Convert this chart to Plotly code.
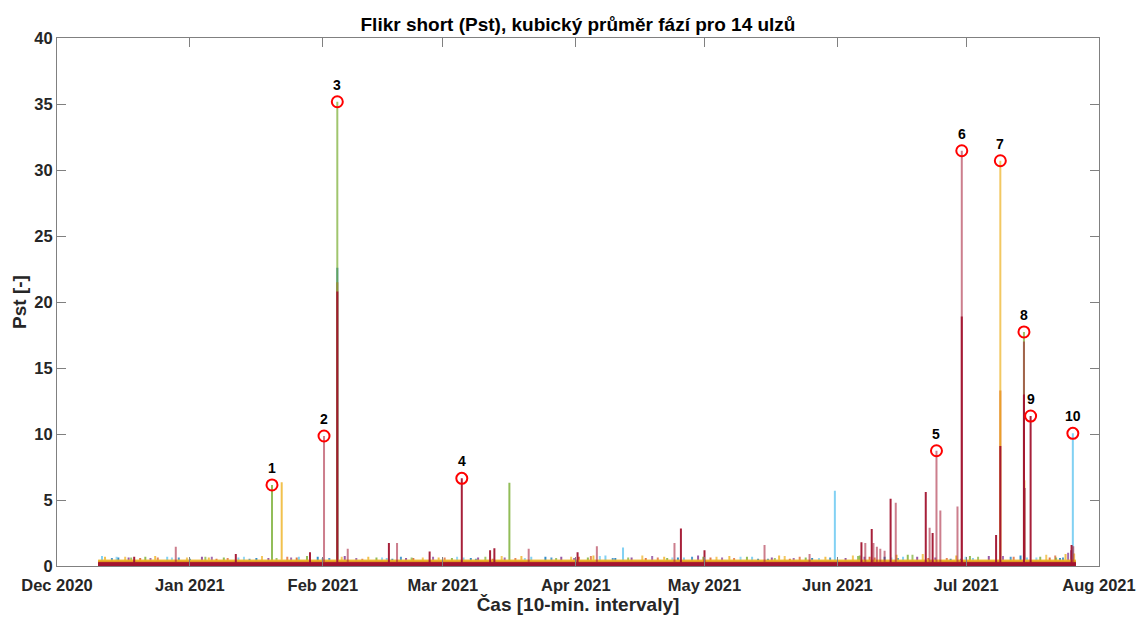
import pandas as pd
import plotly.graph_objects as go

# ---------------- data ----------------
origin = "2020-12-01"          # day 0 for all "days" arrays below
data_start_day = 9.6          # first 10-min sample
data_end_day = 237.6          # last 10-min sample

series_names = [f"ulz {i}" for i in range(1, 15)]
series_colors = ["#0072BD", "#D95319", "#EDB120", "#7E2F8E", "#77AC30", "#4DBEEE", "#A2142F",
                 "#0072BD", "#D95319", "#EDB120", "#7E2F8E", "#77AC30", "#4DBEEE", "#A2142F"]
series_base = [0.18, 0.24, 0.42, 0.14, 0.20, 0.22, 0.20, 0.16, 0.26, 0.36, 0.15, 0.19, 0.21, 0.24]

s1_days = [14.3, 31.0, 46.5, 60.8, 65.37, 78.2, 96.5, 113.9, 130.2, 144.8, 163.5, 176.1, 193.0, 208.4, 224.7, 233.9]
s1_vals = [0.65, 0.55, 0.60, 0.70, 22.6, 0.55, 0.60, 0.70, 0.60, 0.65, 0.55, 0.60, 0.70, 0.55, 0.80, 0.60]
s2_days = [19.4, 37.2, 55.9, 65.37, 83.1, 101.6, 121.7, 137.3, 152.4, 170.9, 189.5, 203.2, 219.99, 231.5]
s2_vals = [0.60, 0.55, 0.65, 21.5, 0.60, 0.55, 0.70, 0.60, 0.65, 0.55, 0.70, 0.60, 13.3, 0.65]
s3_days = [11.2, 22.9, 35.4, 52.4, 72.6, 89.0, 108.3, 125.1, 141.6, 156.8, 168.4, 179.2, 195.8, 209.7, 225.6, 235.2]
s3_vals = [0.70, 0.75, 0.65, 6.35, 0.70, 0.65, 0.75, 0.80, 0.70, 0.75, 0.80, 0.70, 0.85, 0.80, 6.5, 0.90]
s4_days = [16.7, 33.8, 49.3, 67.1, 81.4, 98.2, 117.6, 134.0, 149.5, 166.7, 183.9, 200.6, 217.3, 225.7, 236.5]
s4_vals = [0.65, 0.70, 0.60, 0.75, 0.60, 0.65, 0.70, 0.65, 0.80, 0.65, 0.60, 0.70, 0.75, 5.9, 1.2]
s5_days = [20.6, 38.9, 50.14, 58.3, 74.5, 92.1, 105.5, 123.8, 142.3, 160.9, 174.6, 187.2, 198.4, 212.9, 229.3]
s5_vals = [0.70, 0.65, 6.14, 0.75, 0.65, 0.60, 6.3, 0.65, 0.60, 0.70, 0.65, 0.80, 0.85, 0.75, 0.70]
s6_days = [10.5, 25.7, 42.3, 56.4, 76.9, 94.8, 110.6, 127.9, 132.0, 146.2, 162.1, 181.4, 197.3, 213.6, 226.2, 236.9]
s6_vals = [0.75, 0.70, 0.65, 0.70, 0.60, 0.65, 0.70, 0.80, 1.4, 0.65, 0.70, 5.7, 0.70, 0.60, 0.65, 10.05]
s7_days = [18.0, 41.7, 59.0, 65.37, 77.4, 86.9, 94.4, 101.0, 102.0, 121.4, 145.5, 151.0, 187.6, 190.0,
           194.4, 202.6, 204.2, 211.0, 219.0, 219.99, 225.5, 227.05, 236.6]
s7_vals = [0.70, 0.90, 1.05, 20.8, 1.75, 1.10, 6.64, 1.20, 1.35, 1.05, 2.85, 1.20, 1.80, 2.80,
           5.10, 5.60, 2.50, 18.9, 2.35, 9.1, 13.0, 11.36, 1.6]
s8_days = [12.8, 28.4, 44.9, 63.5, 80.2, 97.7, 115.3, 129.6, 148.1, 165.8, 180.3, 196.1, 210.8, 222.4, 234.6]
s8_vals = [0.60, 0.65, 0.55, 0.60, 0.70, 0.55, 0.65, 0.60, 0.70, 0.55, 0.65, 0.60, 0.55, 0.70, 0.65]
s9_days = [23.5, 39.8, 53.7, 71.2, 90.4, 106.9, 124.5, 140.1, 157.9, 173.2, 190.7, 207.5, 223.1, 232.8]
s9_vals = [0.65, 0.60, 0.70, 0.55, 0.65, 0.60, 0.75, 0.65, 0.60, 0.70, 0.65, 0.60, 0.70, 0.80]
s10_days = [15.9, 30.3, 47.8, 66.4, 85.3, 103.7, 119.9, 136.5, 153.8, 169.7, 185.6, 201.9, 219.99, 230.7, 237.2]
s10_vals = [0.70, 0.65, 0.75, 0.70, 0.65, 0.75, 0.70, 0.80, 0.70, 0.75, 0.80, 0.90, 30.7, 0.85, 0.95]
s11_days = [21.8, 36.1, 54.6, 69.8, 87.7, 104.4, 120.6, 138.8, 155.1, 171.8, 188.3, 204.8, 220.6, 235.8]
s11_vals = [0.60, 0.70, 0.65, 0.60, 0.70, 0.65, 0.60, 0.75, 0.65, 0.60, 0.70, 0.65, 0.75, 1.00]
s12_days = [17.3, 34.6, 51.2, 65.37, 82.7, 99.9, 116.4, 133.2, 150.7, 167.4, 186.8, 199.5, 214.8, 225.5, 233.0]
s12_vals = [0.65, 0.70, 0.60, 35.17, 0.65, 0.70, 0.60, 0.65, 0.70, 0.60, 0.75, 0.85, 0.70, 17.73, 0.65]
s13_days = [13.9, 26.8, 43.6, 61.9, 75.8, 93.3, 109.1, 126.6, 143.5, 159.4, 177.7, 194.6, 211.9, 228.4]
s13_vals = [0.70, 0.65, 0.70, 0.60, 0.65, 0.70, 0.60, 0.75, 0.65, 0.70, 0.60, 0.65, 0.70, 0.65]
s14_days = [27.7, 62.27, 67.8, 79.3, 110.0, 125.9, 144.0, 165.0, 175.5, 188.5, 190.4, 191.2, 192.0, 193.0,
            195.6, 203.5, 205.1, 206.0, 210.0, 211.0, 225.5, 237.0]
s14_vals = [1.45, 9.85, 1.30, 1.75, 1.30, 1.50, 1.75, 1.60, 0.90, 1.75, 1.75, 1.45, 1.30, 1.15,
            4.80, 2.90, 8.73, 4.20, 4.50, 31.46, 17.0, 1.5]

series_days = [s1_days, s2_days, s3_days, s4_days, s5_days, s6_days, s7_days,
               s8_days, s9_days, s10_days, s11_days, s12_days, s13_days, s14_days]
series_vals = [s1_vals, s2_vals, s3_vals, s4_vals, s5_vals, s6_vals, s7_vals,
               s8_vals, s9_vals, s10_vals, s11_vals, s12_vals, s13_vals, s14_vals]

# marked peaks
peak_labels = ["1", "2", "3", "4", "5", "6", "7", "8", "9", "10"]
peak_days = [50.14, 62.27, 65.37, 94.4, 205.1, 211.0, 219.99, 225.5, 227.05, 236.9]
peak_vals = [6.14, 9.85, 35.17, 6.64, 8.73, 31.46, 30.7, 17.73, 11.36, 10.05]

month_ticks = ["2020-12-01", "2021-01-01", "2021-02-01", "2021-03-01", "2021-04-01",
               "2021-05-01", "2021-06-01", "2021-07-01", "2021-08-01"]
month_labels = ["Dec 2020", "Jan 2021", "Feb 2021", "Mar 2021", "Apr 2021",
                "May 2021", "Jun 2021", "Jul 2021", "Aug 2021"]
y_ticks = [0, 5, 10, 15, 20, 25, 30, 35, 40]

# ---------------- figure ----------------
t0 = pd.Timestamp(origin)


def to_time(d):
    return t0 + pd.to_timedelta(d, unit="D")


def hex_rgba(h, a):
    h = h.lstrip("#")
    return f"rgba({int(h[0:2],16)},{int(h[2:4],16)},{int(h[4:6],16)},{a})"


fig = go.Figure()

# draw order: yellow and red series last so they sit on top, as in the reference
order = [0, 1, 3, 4, 5, 7, 8, 10, 11, 12, 2, 9, 13, 6]
line_alpha = [0.8, 0.8, 0.8, 0.8, 0.8, 0.7, 0.95, 0.7, 0.7, 0.7, 0.7, 0.7, 0.6, 0.55]
fill_alpha = [0.9, 0.9, 1.0, 0.9, 0.9, 0.9, 1.0, 0.9, 0.9, 1.0, 0.9, 0.9, 0.9, 0.9]

for i in order:
    base = series_base[i]
    pairs = sorted(zip(series_days[i], series_vals[i]))
    xs = [to_time(data_start_day)]
    ys = [base]
    for d, v in pairs:
        t = to_time(d)
        xs += [t, t, t]
        ys += [base, v, base]
    xs.append(to_time(data_end_day))
    ys.append(base)
    fig.add_trace(go.Scatter(
        x=xs, y=ys, mode="lines", name=series_names[i],
        line=dict(color=hex_rgba(series_colors[i], line_alpha[i]), width=2),
        fill="tozeroy", fillcolor=hex_rgba(series_colors[i], fill_alpha[i]),
        hoverinfo="skip", showlegend=False,
    ))

fig.add_trace(go.Scatter(
    x=[to_time(d) for d in peak_days], y=peak_vals, mode="markers",
    marker=dict(symbol="circle-open", size=11, color="#FF0000", line=dict(width=2, color="#FF0000")),
    showlegend=False, hoverinfo="skip",
))

for lab, d, v in zip(peak_labels, peak_days, peak_vals):
    fig.add_annotation(x=to_time(d), y=v, text=f"<b>{lab}</b>", showarrow=False,
                       yshift=17, font=dict(family="Liberation Sans, Arial", size=14, color="#000000"))

axis_font = dict(family="Liberation Sans, Arial", size=16.5, color="#262626", weight="bold")

fig.update_layout(
    width=1138, height=617,
    margin=dict(l=57, r=39, t=38, b=51, autoexpand=False),
    paper_bgcolor="white", plot_bgcolor="white",
    title=dict(text="<b>Flikr short (Pst), kubický průměr fází pro 14 ulzů</b>",
               x=(57 + 1099) / 2 / 1138, xanchor="center", y=1 - 24 / 617, yanchor="middle",
               yref="container", xref="container",
               font=dict(family="Liberation Sans, Arial", size=19, color="#000000")),
    xaxis=dict(range=[month_ticks[0], month_ticks[-1]], tickmode="array",
               tickvals=month_ticks, ticktext=month_labels, automargin=False,
               showgrid=False, zeroline=False, showline=True, linecolor="#808080", linewidth=1,
               mirror="ticks", ticks="inside", ticklen=9, tickcolor="#808080",
               tickfont=axis_font, ticklabelstandoff=4,
               title=dict(text="<b>Čas [10-min. intervaly]</b>", standoff=4,
                          font=dict(family="Liberation Sans, Arial", size=19, color="#262626"))),
    yaxis=dict(range=[0, 40], tickmode="array", tickvals=y_ticks, automargin=False,
               showgrid=False, zeroline=False, showline=True, linecolor="#808080", linewidth=1,
               mirror="ticks", ticks="inside", ticklen=9, tickcolor="#808080",
               tickfont=axis_font,
               title=dict(text="<b>Pst [-]</b>", standoff=2,
                          font=dict(family="Liberation Sans, Arial", size=19, color="#262626"))),
)

fig.write_html("out.html", config={"displayModeBar": False},
               post_script="document.body.style.margin='0';document.body.style.overflow='hidden';")
